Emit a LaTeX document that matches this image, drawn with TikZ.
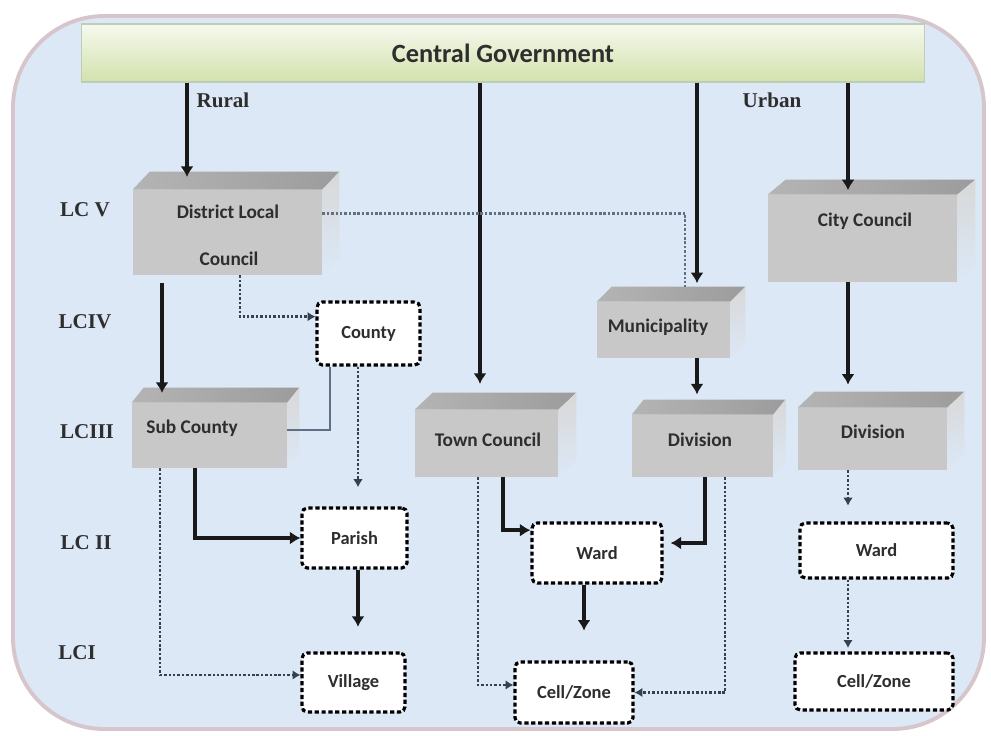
\documentclass[tikz,border=0pt]{standalone}
\usepackage{fontspec}
\setmainfont{Liberation Serif}
\newfontfamily\calfont{Carlito}
\usetikzlibrary{arrows.meta,calc}
\definecolor{bgblue}{HTML}{DCE8F6}
\definecolor{frameC}{HTML}{D6C6CB}
\definecolor{barL}{HTML}{F6F9EE}
\definecolor{barD}{HTML}{D2E2AC}
\definecolor{barB}{HTML}{BFCDB6}
\definecolor{gfront}{HTML}{C8C8C8}
\definecolor{gtopL}{HTML}{B4B4B4}
\definecolor{gtopD}{HTML}{9C9C9C}
\definecolor{gside}{HTML}{D8D8D8}
\definecolor{dotc}{HTML}{34424F}
\definecolor{dotg}{HTML}{5F7084}
\definecolor{txt}{HTML}{2E2E2E}
\tikzset{
  gface/.style={fill=gfront, draw=none, inner sep=0pt},
  gtxt/.style={font=\calfont\bfseries\fontsize{11}{13}\selectfont, text=txt, inner sep=0pt},
  dbox/.style={draw=black, fill=white, line width=1.8pt, dash pattern=on 2.4pt off 1.5pt,
    rounded corners=3pt, inner sep=0pt, font=\calfont\bfseries\fontsize{10.5}{12}\selectfont, text=txt},
  thk/.style={line width=2pt, black!90, -{Latex[length=6pt,width=7.5pt]}},
  dotl/.style={line width=1.5pt, dotc, dash pattern=on 1.4pt off 1.1pt},
  dota/.style={dotl, -{Latex[length=4.5pt,width=5.5pt]}},
  lvl/.style={font=\bfseries\fontsize{12}{14}\selectfont, text=txt, inner sep=0pt},
  barnode/.style={top color=barL, bottom color=barD, draw=barB, line width=0.6pt,
    font=\calfont\bfseries\fontsize{15}{17}\selectfont, text=txt, inner sep=0pt}
}
% #1 name, #2 x1, #3 y1, #4 x2, #5 y2, #6 dx, #7 dy  (pixel units, y downward)
\newcommand\grbox[7]{%
  \node[gface, minimum width={(#4-#2)*0.02cm}, minimum height={(#5-#3)*0.02cm}] (#1) at ({(#2+#4)/2},{(#3+#5)/2}) {};
  \shade[left color=gtopL, right color=gtopD] (#1.north west) -- ++({#6*0.02cm},{#7*0.02cm})
     -- ([shift={({#6*0.02cm},{#7*0.02cm})}]#1.north east) -- (#1.north east) -- cycle;
  \shade[top color=gside, bottom color=bgblue] (#1.north east) -- ++({#6*0.02cm},{#7*0.02cm})
     -- ([shift={({#6*0.02cm},{#7*0.02cm})}]#1.south east) -- (#1.south east) -- cycle;
  \coordinate (#1-t) at ([yshift={#7*0.02cm}]#1.north);
}
\begin{document}
\begin{tikzpicture}[x=0.02cm, y=-0.02cm]
\useasboundingbox (0,0) rectangle (991,735);
\fill[white] (0,0) rectangle (991,735);
\draw[frameC, line width=2.2pt, fill=bgblue, rounded corners=52pt] (13,16) rectangle (984,729);

% central bar
\node[barnode, minimum width={843*0.02cm}, minimum height={58*0.02cm}] (bar) at (503,53) {Central Government};

% level labels
\node[lvl] (l5) at (85,210) {LC V};
\node[lvl] (l4) at (85,322) {LCIV};
\node[lvl] (l3) at (87,432) {LCIII};
\node[lvl] (l2) at (86,543) {LC II};
\node[lvl] (l1) at (77,653) {LCI};

\node[lvl] (rural) at (223,100) {Rural};
\node[lvl] (urban) at (772,100) {Urban};

% gray 3D boxes
\grbox{dist}{133}{190}{322}{275}{17}{18}
\grbox{city}{768}{195}{957}{282}{18}{15}
\grbox{muni}{597}{302}{730}{358}{15}{15}
\grbox{sub}{132}{403}{287}{468}{12}{15}
\grbox{town}{415}{410}{558}{477}{18}{17}
\grbox{divm}{632}{415}{773}{477}{12}{15}
\grbox{divr}{798}{408}{947}{470}{17}{16}

\node[gtxt] (distL) at (228,212) {District Local};
\node[gtxt] (distL2) at (229,259) {Council};
\node[gtxt] (cityL) at (865,221) {City Council};
\node[gtxt] (muniL) at (658,327) {Municipality};
\node[gtxt] (subL) at (192,428) {Sub County};
\node[gtxt] (townL) at (488,440) {Town Council};
\node[gtxt] (divmL) at (700,440) {Division};
\node[gtxt] (divrL) at (873,432) {Division};

% dotted boxes
\node[dbox, minimum width={103*0.02cm}, minimum height={63*0.02cm}] (county) at (368.5,333.5) {County};
\node[dbox, minimum width={105*0.02cm}, minimum height={60*0.02cm}] (parish) at (354.5,538) {Parish};
\node[dbox, minimum width={103*0.02cm}, minimum height={59*0.02cm}] (village) at (353.5,682.5) {Village};
\node[dbox, minimum width={130*0.02cm}, minimum height={60*0.02cm}] (wardm) at (597,553) {Ward};
\node[dbox, minimum width={118*0.02cm}, minimum height={61*0.02cm}] (cellm) at (574,692.5) {Cell/Zone};
\node[dbox, minimum width={153*0.02cm}, minimum height={55*0.02cm}] (wardr) at (876.5,550.5) {Ward};
\node[dbox, minimum width={158*0.02cm}, minimum height={57*0.02cm}] (cellr) at (874,681.5) {Cell/Zone};

% x positions of connectors
\coordinate (xR) at (187,0);
\coordinate (xT) at (480,0);
\coordinate (xM) at (697,0);
\coordinate (xC) at (848,0);
\coordinate (xDS) at (162,0);
\coordinate (xDC) at (240,0);
\coordinate (xDM) at (685,0);
\coordinate (xSC) at (330,0);
\coordinate (xCP) at (358,0);
\coordinate (xSP) at (195,0);
\coordinate (xSV) at (160,0);
\coordinate (xTW) at (503,0);
\coordinate (xTC) at (478,0);
\coordinate (xDW) at (705,0);
\coordinate (xDE) at (725,0);
\coordinate (xWC) at (584,0);

% from central government
\draw[thk, shorten >=-3pt] (bar.south -| xR) -- (xR |- dist-t);
\draw[thk, shorten >=5pt] (bar.south -| xT) -- (xT |- town-t);
\draw[thk, shorten >=2pt] (bar.south -| xM) -- (xM |- muni-t);
\draw[thk, shorten >=-6pt] (bar.south -| xC) -- (xC |- city-t);

% rural side
\draw[thk, shorten <=4.5pt, shorten >=-3pt] (xDS |- dist.south) -- (xDS |- sub-t);
\draw[dota] (xDC |- dist.south) |- ([yshift=9.6pt]county.west);
\draw[dotl, dotg] ([yshift=11pt]dist.east) -| (xDM |- muni-t);
\draw[line width=1.1pt, dotg] ([yshift=3pt]sub.east) -| (xSC |- county.south);
\draw[dota, shorten >=11pt] (xCP |- county.south) -- (xCP |- parish.north);
\draw[thk] (xSP |- sub.south) |- (parish.west);
\draw[dota] (xSV |- sub.south) |- ([yshift=4.3pt]village.west);
\draw[thk, shorten >=14pt] (xCP |- parish.south) -- (xCP |- village.north);

% town council
\draw[thk] (xTW |- town.south) |- ([yshift=13pt]wardm.west);
\draw[dota] (xTC |- town.south) |- ([yshift=4.3pt]cellm.west);
\draw[thk, shorten >=17pt] (xWC |- wardm.south) -- (xWC |- cellm.north);

% municipality
\draw[thk, shorten >=3pt] (xM |- muni.south) -- (xM |- divm-t);
\draw[thk, shorten >=4pt] (xDW |- divm.south) |- ([yshift=5.7pt]wardm.east);
\draw[dota] (xDE |- divm.south) |- (cellm.east);

% city council
\draw[thk, shorten >=4pt] (xC |- city.south) -- (xC |- divr-t);
\draw[dota, shorten >=9pt] (xC |- divr.south) -- (xC |- wardr.north);
\draw[dota, shorten >=2pt] (xC |- wardr.south) -- (xC |- cellr.north);
\end{tikzpicture}
\end{document}
